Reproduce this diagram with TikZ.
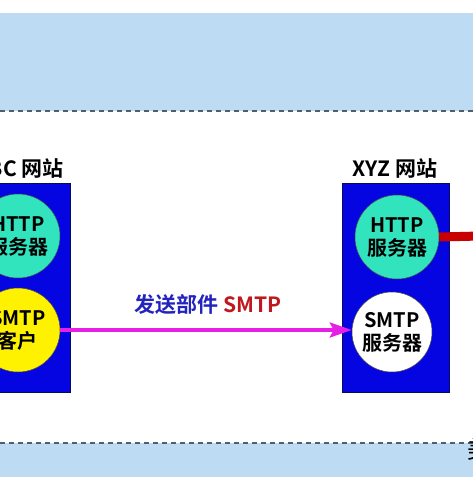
\documentclass[tikz,border=0pt]{standalone}
\usepackage{fontspec}
\setmainfont{Noto Sans CJK SC}[BoldFont={Noto Sans CJK SC Bold}]
\usetikzlibrary{arrows.meta}
\definecolor{band}{RGB}{189,220,243}
\definecolor{dashc}{RGB}{80,95,110}
\definecolor{boxblue}{RGB}{5,5,225}
\definecolor{boxedge}{RGB}{10,10,90}
\definecolor{teal}{RGB}{50,228,190}
\definecolor{arrowmag}{RGB}{230,30,230}
\definecolor{labelblue}{RGB}{35,35,190}
\definecolor{labelred}{RGB}{190,25,30}
\definecolor{linkred}{RGB}{200,0,0}
\tikzset{
  site/.style={draw=boxedge, line width=0.8pt, fill=boxblue, minimum width=107pt, minimum height=209pt, inner sep=0pt},
  svc/.style={circle, draw=black!70, line width=0.5pt, minimum size=84pt, inner sep=0pt, align=center, font=\fontsize{20}{23}\selectfont\bfseries},
  title/.style={font=\fontsize{21}{24}\selectfont\bfseries, inner sep=0pt},
}
\begin{document}
\begin{tikzpicture}[x=1pt,y=-1pt]
\useasboundingbox (0,0) rectangle (473,477);
\fill[white] (0,0) rectangle (473,477);
% bands
\fill[band] (0,13) rectangle (473,111);
\draw[dashc, dash pattern=on 5pt off 4pt, line width=1.1pt] (0,111) -- (473,111);
\fill[band] (0,443) rectangle (473,477);
\draw[dashc, dash pattern=on 5pt off 4pt, line width=1.1pt] (0,443) -- (473,443);
% sites
\node[site] (abc) at (17,287.5) {};
\node[site] (xyz) at (395.5,287.5) {};
\node[title, anchor=base east] (abct) at (64,176) {ABC 网站};
\node[title, anchor=base] (xyzt) at (395,176) {XYZ 网站};
% services
\node[svc, fill=teal] (ahttp) at (18,236) {HTTP\\服务器};
\node[svc, fill=yellow] (asmtp) at (18,330) {SMTP\\客户};
\node[svc, fill=teal] (xhttp) at (397,237) {HTTP\\服务器};
\node[svc, fill=white, minimum size=80pt] (xsmtp) at (392,332) {SMTP\\服务器};
% connectors
\coordinate (offr) at (480,236);
\draw[linkred, line width=9pt] (xhttp.east) -- (offr);
\draw[arrowmag, line width=3.5pt, -{Stealth[length=22pt,width=15pt,inset=4pt]}] (asmtp.east) -- (xsmtp.west |- asmtp.east);
\node[inner sep=0pt, anchor=base, font=\fontsize{21}{24}\selectfont\bfseries] (lbl) at (208,312) {\textcolor{labelblue}{发送部件} \textcolor{labelred}{SMTP}};
% partial text at right edge
\node[inner sep=0pt, anchor=west, font=\fontsize{24}{26}\selectfont] (cut) at (467,449) {美};
\end{tikzpicture}
\end{document}
